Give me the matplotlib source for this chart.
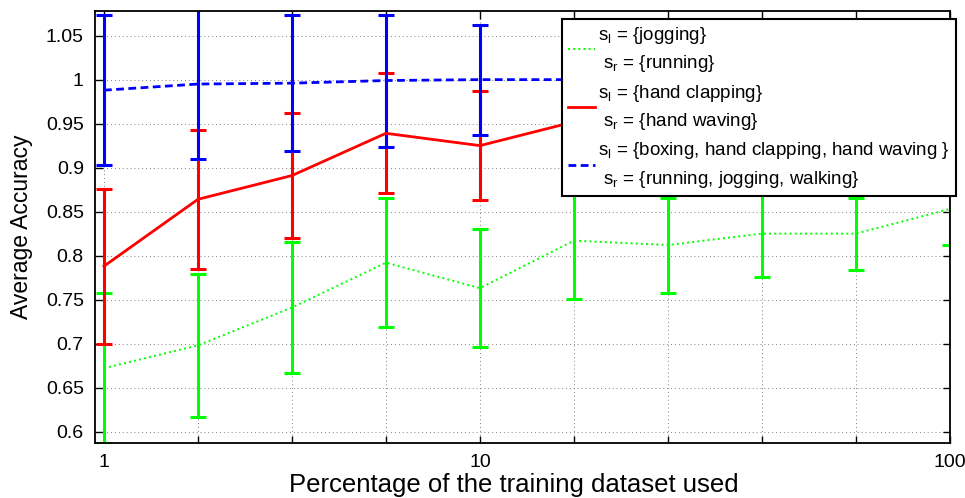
import matplotlib
matplotlib.use("Agg")
import matplotlib.pyplot as plt
from matplotlib.ticker import FuncFormatter
import numpy as np

# x positions are the sampled training-set fractions (equally spaced on the plot)
x_tick_labels = ["1", "", "", "", "10", "", "", "", "", "100"]

# s_l = {jogging}, s_r = {running}
jog_mean = [0.672, 0.698, 0.741, 0.792, 0.763, 0.817, 0.812, 0.825, 0.825, 0.853]
jog_err = [0.085, 0.081, 0.074, 0.073, 0.067, 0.066, 0.054, 0.049, 0.041, 0.041]

# s_l = {hand clapping}, s_r = {hand waving}
clap_mean = [0.788, 0.864, 0.891, 0.939, 0.925, 0.952, 0.948, 0.950, 0.948, 0.948]
clap_err = [0.088, 0.079, 0.071, 0.068, 0.062, 0.058, 0.055, 0.052, 0.048, 0.045]

# s_l = {boxing, hand clapping, hand waving}, s_r = {running, jogging, walking}
box_mean = [0.988, 0.995, 0.996, 0.999, 1.000, 1.000, 1.000, 1.000, 1.000, 1.000]
box_err = [0.085, 0.085, 0.077, 0.075, 0.0625, 0.055, 0.050, 0.045, 0.040, 0.036]

labels = [
    "$s_l$ = {jogging}\n $s_r$ = {running}",
    "$s_l$ = {hand clapping}\n $s_r$ = {hand waving}",
    "$s_l$ = {boxing, hand clapping, hand waving }\n $s_r$ = {running, jogging, walking}",
]

plt.rcParams["font.family"] = ["Liberation Sans", "DejaVu Sans"]
plt.rcParams["mathtext.default"] = "regular"

fig = plt.figure(figsize=(9.65, 4.98), dpi=100)
ax = fig.add_axes([0.0984, 0.1104, 0.886, 0.8675])

steps = np.arange(len(x_tick_labels))

series = [
    (jog_mean, jog_err, "#00ff00", ":", 1.4),
    (clap_mean, clap_err, "#ff0000", "-", 2.0),
    (box_mean, box_err, "#0000ff", (0, (2.8, 1.6)), 2.0),
]

handles = []
for (mean, err, color, ls, lw), label in zip(series, labels):
    eb = ax.errorbar(steps, mean, yerr=err, color=color, linestyle=ls, linewidth=lw,
                     elinewidth=2.2, capsize=6.1, capthick=2.2, label=label)
    handles.append(eb.lines[0])

ax.set_xlim(-0.096, 9)
ax.set_ylim(0.587, 1.078)
ax.set_xticks(steps, labels=x_tick_labels)
ax.set_yticks(np.arange(0.6, 1.051, 0.05))
ax.yaxis.set_major_formatter(FuncFormatter(lambda v, _: f"{round(v, 2):g}"))

ax.tick_params(direction="in", length=5.4, width=1.0, top=True, right=True,
               labelsize=14, pad=8)
for sp in ax.spines.values():
    sp.set_linewidth(1.3)

ax.grid(True, color="0.5", linestyle=(0, (1, 3)), linewidth=0.7)
ax.set_axisbelow(True)

ax.set_xlabel("Percentage of the training dataset used", fontsize=18.5, labelpad=0)
ax.xaxis.set_label_coords(0.49, -0.07)
ax.set_ylabel("Average Accuracy", fontsize=16.5, labelpad=9)

leg = ax.legend(handles=handles, labels=labels, loc="upper right",
                bbox_to_anchor=(1.007, 0.9815), fontsize=13.5, fancybox=False,
                framealpha=1, edgecolor="black", handlelength=1.45,
                handletextpad=0.2, borderpad=0.3, labelspacing=0.45,
                borderaxespad=0)
leg.get_frame().set_linewidth(1.5)
for t in leg.get_texts():
    t.set_linespacing(1.5)

fig.savefig("out.png", dpi=100)
